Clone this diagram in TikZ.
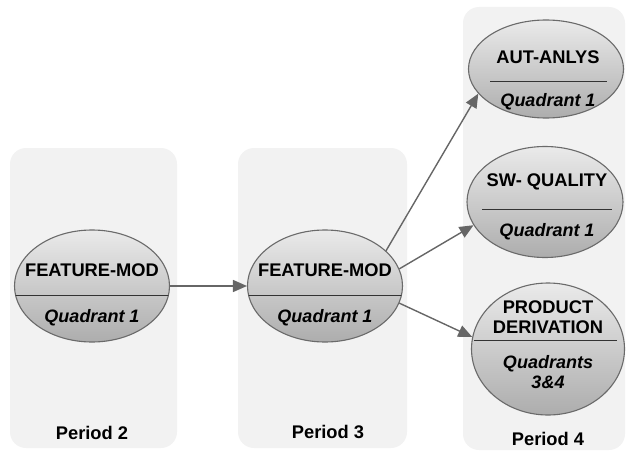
\documentclass[tikz,border=0pt]{standalone}
\usepackage{fontspec}
\setmainfont{Liberation Sans}
\usetikzlibrary{arrows.meta,shapes.geometric}
\definecolor{panel}{HTML}{F2F2F2}
\definecolor{edge}{HTML}{6A6A6A}
\definecolor{conn}{HTML}{666666}
\definecolor{topc}{HTML}{EAEAEA}
\definecolor{botc}{HTML}{ADADAD}
\tikzset{
  panelbox/.style={fill=panel, rounded corners=16pt},
  oval/.style={ellipse, draw=edge, line width=1.1pt, top color=topc, bottom color=botc, inner sep=0pt, minimum width=#1},
  title/.style={font=\fontsize{18.3}{20}\selectfont\bfseries, text=black, align=center},
  sub/.style={font=\fontsize{18}{20}\selectfont\bfseries\itshape, text=black, align=center},
  per/.style={font=\fontsize{18.3}{20}\selectfont\bfseries, text=black},
  divider/.style={draw=black!80, line width=1pt},
  conarrow/.style={draw=conn, line width=1.4pt, -{Triangle[length=14pt,width=12pt]}}
}
\begin{document}
\begin{tikzpicture}[x=1pt,y=-1pt]
\useasboundingbox (0,0) rectangle (626,452);
% panels
\fill[panelbox] (10,148) rectangle (177,448);
\fill[panelbox] (238,148) rectangle (407,448);
\fill[panelbox] (463,7) rectangle (625,450);
% ellipses
\node[oval=155pt, minimum height=112pt] (e1) at (92,286) {};
\node[oval=155pt, minimum height=112pt] (e2) at (325,286) {};
\node[oval=155pt, minimum height=98pt] (aut) at (546,69) {};
\node[oval=156pt, minimum height=111pt] (swq) at (545,202) {};
\node[oval=153pt, minimum height=132pt] (prd) at (548,349) {};
% dividers
\begin{scope}
\clip (92,286) ellipse [x radius=77.5, y radius=56];
\draw[divider] (10,295) -- (180,295);
\end{scope}
\begin{scope}
\clip (325,286) ellipse [x radius=77.5, y radius=56];
\draw[divider] (240,295) -- (410,295);
\end{scope}
\draw[divider] (490,81) -- (607,81);
\draw[divider] (482,209) -- (612,209);
\draw[divider] (474,340) -- (617,340);
% texts
\node[title] (t1) at (92,270) {FEATURE-MOD};
\node[sub] (s1) at (92,318) {Quadrant 1};
\node[title] (t2) at (325,270) {FEATURE-MOD};
\node[sub] (s2) at (325,318) {Quadrant 1};
\node[title] (t3) at (548,57) {AUT-ANLYS};
\node[sub] (s3) at (548,102) {Quadrant 1};
\node[title] (t4) at (547,182) {SW- QUALITY};
\node[sub] (s4) at (547,232) {Quadrant 1};
\node[title] (t5) at (548,317) {PRODUCT\\DERIVATION};
\node[sub] (s5) at (548,372) {Quadrants\\3\&4};
\node[per] (p2) at (92,433) {Period 2};
\node[per] (p3) at (328,432) {Period 3};
\node[per] (p4) at (548,439) {Period 4};
% connectors
\draw[conarrow] (e1.east) -- (e2.west);
\draw[conarrow] (e2.30) -- (aut.200);
\draw[conarrow] (e2.13) -- (swq.198);
\draw[conarrow] (e2.347) -- (prd.171);
\end{tikzpicture}
\end{document}
